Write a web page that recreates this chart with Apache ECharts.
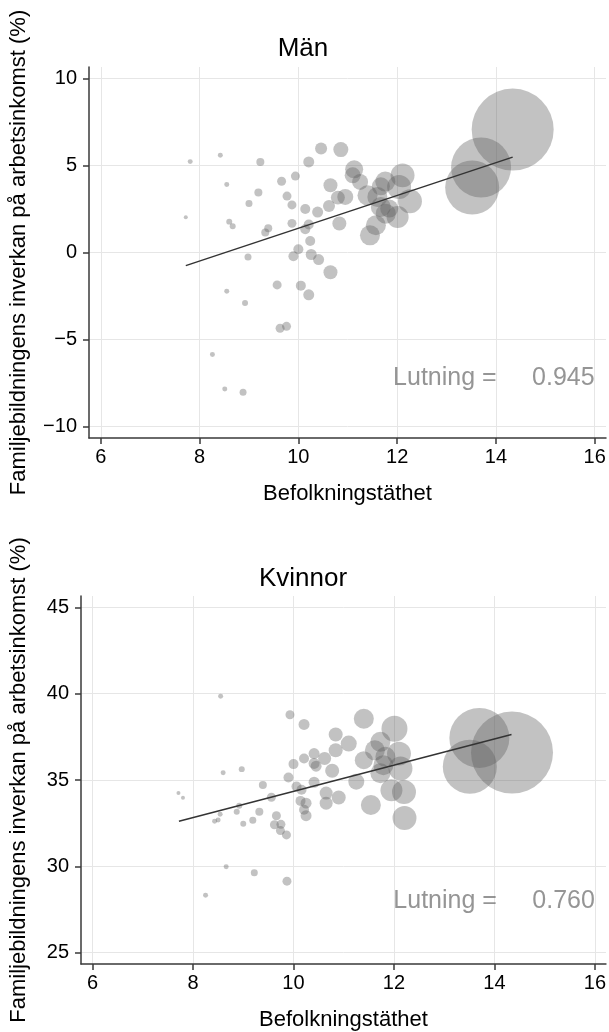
<!DOCTYPE html>
<html>
<head>
<meta charset="utf-8">
<script src="https://cdn.jsdelivr.net/npm/echarts@6/dist/echarts.min.js"></script>
<style>
html,body{margin:0;padding:0;background:#fff;}
#c{width:609px;height:1032px;}
</style>
</head>
<body>
<div id="c"></div>
<script>
// ---------- DATA ----------
const panelTitles = ['Män', 'Kvinnor'];
const xTicks = [6, 8, 10, 12, 14, 16];
const menYTicks = [-10, -5, 0, 5, 10];
const womenYTicks = [25, 30, 35, 40, 45];
const xTitle = 'Befolkningstäthet';
const yTitle = 'Familjebildningens inverkan på arbetsinkomst (%)';
const slopes = ['0.945', '0.760'];

// Men: density, effect (%), population (thousands)
const menX = [7.81, 8.42, 9.23, 8.55, 9.19, 9.00, 7.72, 8.60, 8.67, 9.33, 9.39, 8.98, 9.66, 9.94, 9.77, 9.87,
  10.21, 10.46, 9.87, 10.14, 10.39, 10.62, 10.21, 10.14, 10.24, 10.00, 9.90, 10.26, 10.41, 10.65, 10.86, 10.80,
  10.83, 11.13, 11.10, 11.25, 11.40, 11.76, 11.67, 12.11, 12.04, 12.26, 10.95, 11.60, 11.67, 11.77, 12.01, 11.57,
  11.45, 10.65, 8.55, 8.92, 9.57, 10.05, 10.21, 9.63, 9.76, 8.26, 8.51, 8.88, 11.84, 14.34, 13.70, 13.52];
const menY = [5.23, 5.59, 5.21, 3.91, 3.45, 2.82, 2.03, 1.78, 1.51, 1.15, 1.40, -0.25, 4.10, 4.40, 3.25, 2.74,
  5.21, 5.98, 1.68, 2.51, 2.33, 2.68, 1.61, 1.34, 0.67, 0.19, -0.21, -0.11, -0.40, 3.87, 5.92, 3.16,
  1.67, 4.79, 4.44, 4.06, 3.29, 4.08, 3.81, 4.44, 3.77, 2.95, 3.20, 3.20, 2.62, 2.24, 2.05, 1.57,
  0.99, -1.13, -2.22, -2.90, -1.86, -1.90, -2.43, -4.35, -4.24, -5.86, -7.84, -8.03, 2.53, 7.07, 4.89, 3.74];
const menPop = [3.6, 3.6, 9.3, 3.6, 9.3, 7.1, 2.3, 5.2, 5.2, 9.3, 9.3, 7.1, 11.7, 11.7, 11.7, 11.7,
  17.5, 20.9, 11.7, 14.5, 17.5, 20.9, 14.5, 14.5, 14.5, 14.5, 14.5, 17.5, 17.5, 28.4, 32.6, 28.4,
  28.4, 47, 37, 37, 58, 58, 47, 83, 83, 83, 37, 58, 58, 58, 70, 58,
  58, 28.4, 3.6, 5.2, 11.7, 14.5, 17.5, 11.7, 11.7, 3.6, 3.6, 7.1, 47, 975, 522, 423];
const menFitX = [7.72, 14.34];
const menFitY = [-0.75, 5.49];

// Women: density, effect (%), population (thousands)
const womenX = [8.55, 9.93, 10.21, 10.84, 10.84, 10.62, 10.41, 10.21, 10.00, 10.41, 10.45, 10.77, 8.60, 8.97, 9.90,
  11.40, 12.01, 11.10, 11.73, 11.62, 12.10, 11.40, 11.83, 11.79, 12.13, 11.73, 9.39, 10.06, 10.16, 10.41,
  10.65, 10.65, 10.90, 7.71, 7.80, 9.56, 8.92, 8.87, 9.32, 8.54, 8.50, 8.43, 9.00, 9.19, 9.66, 9.62,
  9.75, 9.74, 9.86, 10.14, 10.25, 10.21, 10.25, 8.66, 9.22, 9.87, 8.25, 11.25, 11.95, 12.20, 12.21, 11.54,
  14.35, 13.70, 13.51];
const womenY = [39.85, 38.78, 38.22, 37.64, 36.72, 36.25, 36.53, 36.25, 35.92, 35.96, 35.80, 35.54, 35.42, 35.63, 35.14,
  38.55, 37.97, 37.11, 37.21, 36.72, 36.53, 36.15, 36.34, 35.86, 35.67, 35.39, 34.71, 34.62, 34.43, 34.87,
  34.24, 33.66, 33.99, 34.25, 33.97, 34.00, 33.51, 33.16, 33.16, 33.01, 32.68, 32.61, 32.47, 32.67, 32.93, 32.41,
  32.43, 32.07, 31.82, 33.79, 33.66, 33.28, 32.93, 29.97, 29.62, 29.14, 28.32, 34.90, 34.40, 34.30, 32.80, 33.55,
  36.59, 37.44, 35.77];
const womenPop = [3.6, 11.7, 17.5, 28.4, 28.4, 24.5, 17.5, 14.5, 14.5, 17.5, 17.5, 28.4, 3.6, 5.2, 14.5,
  58, 98, 37, 58, 58, 83, 47, 58, 58, 83, 58, 9.3, 14.5, 14.5, 17.5,
  24.5, 24.5, 28.4, 2.3, 2.3, 11.7, 5.2, 5.2, 9.3, 3.6, 3.6, 3.6, 5.2, 7.1, 11.7, 11.7,
  11.7, 11.7, 11.7, 14.5, 17.5, 14.5, 17.5, 3.6, 7.1, 11.7, 3.6, 37, 70, 83, 83, 58,
  975, 522, 423];
const womenFitX = [7.72, 14.34];
const womenFitY = [32.61, 37.64];

// ---------- CHART ----------
const FONT = '"Liberation Sans", Arial, Helvetica, sans-serif';
const AXIS_COLOR = '#3a3a3a';
const GRID_COLOR = '#e6e6e6';
const BUBBLE = 'rgba(94,94,94,0.47)';
const sizeOf = v => 2.626 * Math.sqrt(v[2]);
const fmt = v => String(v).replace('-', '\u2212');

function zip3(a, b, c) { return a.map((v, i) => [v, b[i], c[i]]); }
function zip2(a, b) { return a.map((v, i) => [v, b[i]]); }

function xAxisCfg(gi, min, max) {
  return {
    type: 'value', gridIndex: gi, min: min, max: max,
    name: xTitle, nameLocation: 'middle', nameGap: 45,
    nameTextStyle: { fontFamily: FONT, fontSize: 22, color: '#000' },
    axisLine: { show: true, onZero: false, lineStyle: { color: AXIS_COLOR, width: 1.5 } },
    axisTick: { show: true, length: 6, customValues: xTicks, lineStyle: { color: AXIS_COLOR, width: 1.5 } },
    axisLabel: { customValues: xTicks, fontFamily: FONT, fontSize: 20, color: '#000', margin: 9, formatter: fmt },
    splitLine: { show: true, lineStyle: { color: GRID_COLOR, width: 1 } }
  };
}
function yAxisCfg(gi, min, max, ticks, gap) {
  return {
    type: 'value', gridIndex: gi, min: min, max: max,
    name: yTitle, nameLocation: 'middle', nameGap: gap,
    nameTextStyle: { fontFamily: FONT, fontSize: 22, color: '#000' },
    axisLine: { show: true, onZero: false, lineStyle: { color: AXIS_COLOR, width: 1.5 } },
    axisTick: { show: true, length: 6, customValues: ticks, lineStyle: { color: AXIS_COLOR, width: 1.5 } },
    axisLabel: { customValues: ticks, fontFamily: FONT, fontSize: 20, color: '#000', margin: 12, formatter: fmt },
    splitLine: { show: true, lineStyle: { color: GRID_COLOR, width: 1 } }
  };
}
function bubbles(gi, data) {
  return {
    type: 'scatter', xAxisIndex: gi, yAxisIndex: gi, data: data,
    symbolSize: sizeOf, itemStyle: { color: BUBBLE, borderWidth: 0 }, silent: true, z: 2
  };
}
function fit(gi, data) {
  return {
    type: 'line', xAxisIndex: gi, yAxisIndex: gi, data: data, symbol: 'none',
    lineStyle: { color: '#333', width: 1.5 }, silent: true, z: 3
  };
}
function note(gi, y, slope) {
  return {
    type: 'scatter', xAxisIndex: gi, yAxisIndex: gi, data: [[16, y]], symbolSize: 0, silent: true, z: 4,
    label: {
      show: true, position: 'left', distance: 0,
      formatter: '{a|Lutning =}{b|' + slope + '}',
      rich: {
        a: { fontFamily: FONT, fontSize: 25, color: '#7a7a7a', width: 139, align: 'left' },
        b: { fontFamily: FONT, fontSize: 25, color: '#7a7a7a' }
      }
    }
  };
}

const chart = echarts.init(document.getElementById('c'), null, { renderer: 'canvas' });
chart.setOption({
  animation: false,
  backgroundColor: '#fff',
  title: [
    { text: panelTitles[0], left: 298, top: 31, textAlign: 'center',
      textStyle: { fontFamily: FONT, fontSize: 26, fontWeight: 'normal', color: '#000' } },
    { text: panelTitles[1], left: 298, top: 561, textAlign: 'center',
      textStyle: { fontFamily: FONT, fontSize: 26, fontWeight: 'normal', color: '#000' } }
  ],
  grid: [
    { left: 88, top: 67, width: 518, height: 371, containLabel: false },
    { left: 80, top: 596, width: 526, height: 371, containLabel: false }
  ],
  xAxis: [xAxisCfg(0, 5.76, 16.23), xAxisCfg(1, 5.77, 16.22)],
  yAxis: [yAxisCfg(0, -10.66, 10.67, menYTicks, 59), yAxisCfg(1, 24.34, 45.66, womenYTicks, 51)],
  series: [
    bubbles(0, zip3(menX, menY, menPop)),
    fit(0, zip2(menFitX, menFitY)),
    note(0, -7.2, slopes[0]),
    bubbles(1, zip3(womenX, womenY, womenPop)),
    fit(1, zip2(womenFitX, womenFitY)),
    note(1, 28.0, slopes[1])
  ]
});
</script>
</body>
</html>
